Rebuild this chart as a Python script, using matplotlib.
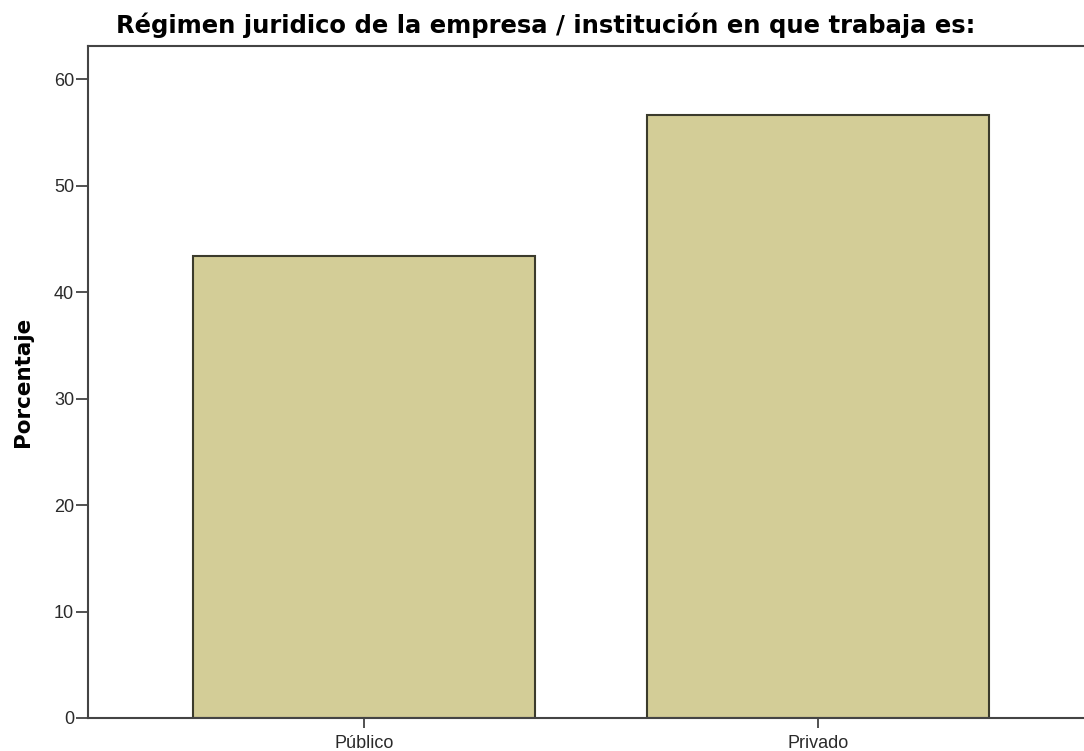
import matplotlib.pyplot as plt
import numpy as np

categorias = ['Público', 'Privado']
porcentajes = [43.4, 56.6]

plt.rcParams['font.family'] = ['Liberation Sans', 'DejaVu Sans']

fig = plt.figure(figsize=(10.84, 7.51), dpi=100)
ax = fig.add_axes([88/1084, 33/751, 1 - 88/1084 + 0.002, (718-46)/751])

x = np.arange(len(categorias))
ax.bar(x, porcentajes, width=0.753, color='#d3cd97', edgecolor='#3b3b2c', linewidth=1.5)

ax.set_xlim(-0.608, 1.59)
ax.set_ylim(0, 63.1)
ax.set_yticks([0, 10, 20, 30, 40, 50, 60])
ax.set_xticks(x)
ax.set_xticklabels(categorias)
ax.tick_params(axis='both', direction='out', width=1.2, color='#333333',
               labelsize=13, labelcolor='#2a2a2a')
ax.tick_params(axis='y', length=9, pad=1)
ax.tick_params(axis='x', length=7, pad=5)

for s in ['left', 'bottom', 'top']:
    ax.spines[s].set_color('#444444')
    ax.spines[s].set_linewidth(1.5)
ax.spines['right'].set_visible(False)

ax.set_ylabel('Porcentaje', fontsize=15.5, fontweight='bold', family='DejaVu Sans',
              va='center')
ax.yaxis.set_label_coords(-0.0654, 0.5)
fig.text(546/1084, 1 - 33/751, 'Régimen juridico de la empresa / institución en que trabaja es:',
         ha='center', va='baseline', fontsize=17.5, fontweight='bold',
         family='DejaVu Sans')

fig.savefig('out.png', dpi=100)
